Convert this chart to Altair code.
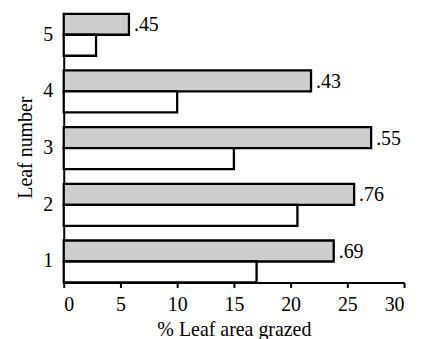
import altair as alt
import pandas as pd

leaves = [1, 2, 3, 4, 5]
grazed_a = [23.8, 25.6, 27.1, 21.8, 5.75]
grazed_b = [17.0, 20.6, 15.0, 10.0, 2.85]
ratio_labels = [".69", ".76", ".55", ".43", ".45"]
x_ticks = [0, 5, 10, 15, 20, 25, 30]

rows = []
for i, lf in enumerate(leaves):
    rows.append({"leaf": lf, "series": "a", "value": grazed_a[i], "label": ratio_labels[i]})
    rows.append({"leaf": lf, "series": "b", "value": grazed_b[i], "label": ""})
df = pd.DataFrame(rows)

FONT = "Liberation Serif"
FS = 20

x_enc = alt.X(
    "value:Q",
    scale=alt.Scale(domain=[0, 30], nice=False),
    axis=alt.Axis(
        title="% Leaf area grazed",
        values=x_ticks,
        grid=False,
        tickSize=5,
        tickWidth=2,
        tickColor="black",
        domainColor="black",
        domainWidth=2,
        labelPadding=7,
        titleY=53,
        titleBaseline="alphabetic",
    ),
)
y_enc = alt.Y(
    "leaf:O",
    sort="descending",
    scale=alt.Scale(paddingInner=0.26, paddingOuter=0),
    axis=alt.Axis(
        title="Leaf number",
        ticks=False,
        domainColor="black",
        domainWidth=2,
        labelAngle=0,
        labelPadding=11,
        titleAngle=-90,
        titleX=-32,
        titleY=134,
        titleBaseline="alphabetic",
        titleAlign="center",
    ),
)
yoff = alt.YOffset("series:N", scale=alt.Scale(domain=["a", "b"], paddingInner=0, paddingOuter=0))

bars = alt.Chart(df).mark_bar(stroke="black", strokeWidth=2.3).encode(
    x=x_enc,
    y=y_enc,
    yOffset=yoff,
    fill=alt.Fill("series:N", scale=alt.Scale(domain=["a", "b"], range=["#cdcdcd", "#ffffff"]), legend=None),
)

labels = alt.Chart(df).transform_filter(alt.datum.series == "a").mark_text(
    align="left", baseline="middle", dx=5, dy=1, font=FONT, fontSize=FS, color="black"
).encode(
    x="value:Q",
    y=alt.Y("leaf:O", sort="descending"),
    yOffset=yoff,
    text="label:N",
)

chart = (
    alt.layer(bars, labels)
    .properties(
        width=342,
        height=270,
        autosize="none",
        padding={"left": 56, "top": 5, "right": 10, "bottom": 56},
        background="white",
    )
    .configure_view(stroke=None)
    .configure_axis(
        labelFont=FONT,
        labelFontSize=FS,
        labelColor="black",
        titleFont=FONT,
        titleFontSize=FS,
        titleFontWeight="normal",
        titleColor="black",
    )
)

chart.save("out.html", embed_options={"renderer": "svg", "actions": False})
